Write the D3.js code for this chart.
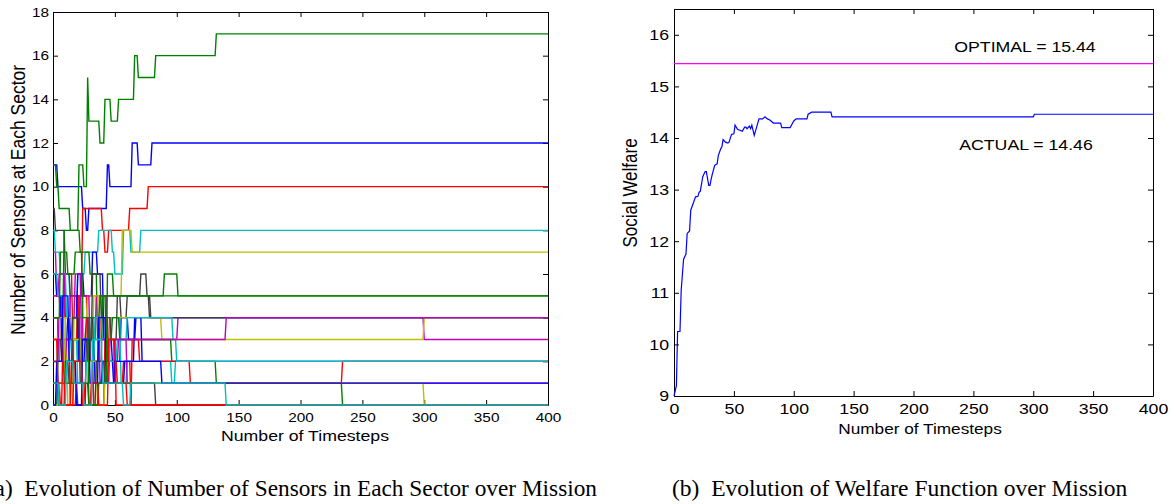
<!DOCTYPE html>
<html>
<head>
<meta charset="utf-8">
<script src="https://cdn.jsdelivr.net/npm/d3@7"></script>
<style>
    body { margin: 0; background: #fff; }
    svg { display: block; }
</style>
</head>
<body>
<svg id="mainCanvas" width="1172" height="504"></svg>
<script>
const lastStep = 400;
const timeTicks = [0, 50, 100, 150, 200, 250, 300, 350, 400];
const sensorTicks = [0, 2, 4, 6, 8, 10, 12, 14, 16, 18];
const welfareTicks = [9, 10, 11, 12, 13, 14, 15, 16];

// matlab default line colours, cycled over the sectors
const sectorColors = ["#0000ff", "#008000", "#ff0000", "#00bfbf", "#bf00bf", "#bfbf00", "#404040"];

// one list per sector: [timestep, sensors] each time the count changes
const sectorChanges = [
    [[0, 11], [4, 10], [24, 9], [27, 8], [29, 9], [44, 11], [46, 10], [64, 12], [69, 11], [80, 12]],
    [[0, 11], [3, 10], [5, 9], [14, 8], [21, 11], [25, 10], [28, 15], [29, 13], [38, 12], [42, 14], [47, 13], [53, 14], [66, 16], [69, 15], [83, 16], [132, 17]],
    [[0, 5], [6, 4], [10, 6], [16, 3], [20, 5], [24, 9], [40, 8], [42, 7], [45, 8], [62, 9], [77, 10]],
    [[0, 2], [5, 3], [9, 6], [14, 4], [20, 6], [26, 7], [37, 8], [48, 7], [50, 6], [57, 8], [63, 7], [71, 8]],
    [[0, 7], [3, 5], [8, 3], [14, 5], [22, 2], [29, 4], [38, 1], [46, 3], [101, 4], [300, 3]],
    [[0, 4], [6, 3], [12, 0], [17, 4], [25, 3], [33, 5], [56, 8], [64, 7]],
    [[0, 9], [2, 8], [10, 6], [14, 5], [20, 3], [27, 4], [33, 2], [40, 5], [55, 4], [60, 5], [71, 6], [76, 5], [78, 4]],
    [[0, 6], [3, 5], [7, 3], [12, 4], [20, 6], [25, 5], [32, 7], [36, 6], [41, 3], [48, 2], [55, 4], [61, 3], [67, 4]],
    [[0, 1], [4, 4], [9, 8], [22, 7], [30, 6], [36, 3], [40, 5], [90, 6], [101, 5]],
    [[0, 1], [6, 0], [15, 2], [21, 5], [28, 2], [33, 0], [42, 3], [50, 1], [57, 2], [63, 0]],
    [[0, 8], [2, 7], [6, 6], [11, 4], [16, 2], [24, 1], [30, 3], [37, 2], [46, 4], [55, 1], [60, 2], [96, 1], [99, 2]],
    [[0, 5], [5, 6], [10, 4], [18, 6], [23, 3], [35, 5], [44, 2], [53, 3], [60, 1]],
    [[0, 3], [5, 4], [11, 1], [17, 2], [24, 4], [28, 5], [38, 3], [47, 4], [88, 3], [300, 4]],
    [[0, 3], [7, 2], [13, 1], [20, 0], [27, 3], [32, 6], [39, 4], [47, 3], [52, 5], [79, 4]],
    [[0, 2], [4, 1], [9, 3], [15, 4], [21, 2], [26, 3], [34, 1], [40, 2], [49, 1], [58, 2], [66, 4], [72, 2]],
    [[0, 0], [4, 2], [10, 1], [16, 3], [24, 2], [31, 4], [38, 5], [43, 3], [48, 4], [54, 3], [96, 2], [132, 1], [234, 0]],
    [[0, 2], [4, 0], [8, 3], [14, 0], [19, 1], [26, 0], [32, 2], [38, 4], [45, 2], [52, 1], [60, 0], [64, 3], [70, 2], [111, 1], [234, 2]],
    [[0, 6], [4, 5], [9, 2], [14, 3], [20, 1], [27, 2], [34, 4], [40, 3], [46, 2], [52, 3], [60, 4], [97, 3], [100, 2]],
    [[0, 4], [5, 2], [11, 3], [17, 1], [24, 5], [30, 2], [37, 3], [44, 1], [50, 3], [140, 4]],
    [[0, 0], [5, 1], [10, 4], [16, 3], [23, 1], [29, 2], [36, 0], [42, 1], [300, 0]],
    [[0, 1], [5, 0], [10, 2], [16, 4], [22, 1], [29, 0], [35, 2], [42, 1], [83, 0]],
    [[0, 0], [3, 2], [8, 5], [13, 2], [19, 0], [24, 3], [30, 1], [37, 4], [43, 1], [50, 2], [88, 1]],
    [[0, 4], [6, 7], [12, 6], [18, 7], [24, 4], [29, 0], [37, 1], [44, 6], [49, 5]],
    [[0, 3], [4, 1], [10, 0], [17, 2], [24, 0], [31, 1], [37, 0], [45, 3], [51, 0]],
    [[0, 1], [5, 0], [11, 2], [17, 1], [25, 0], [32, 3], [40, 1], [57, 0], [63, 1], [140, 0]]
];

const welfareSteps = [0, 2, 3, 5, 6, 8, 10, 11, 13, 14, 16, 18, 20, 21, 22, 24, 26, 27, 29, 30,
    31, 32, 34, 36, 37, 39, 40, 41, 43, 45, 46, 48, 50, 51, 53, 55, 57, 59, 60, 61,
    63, 64, 65, 67, 69, 71, 74, 76, 78, 80, 83, 89, 90, 97, 100, 102, 111, 112, 115, 131,
    132, 300, 301, 400];
const welfareValues = [9.0, 9.2, 10.25, 10.25, 11.05, 11.65, 11.75, 12.15, 12.2, 12.6,
    12.73, 12.86, 12.87, 12.95, 12.97, 13.25, 13.35, 13.35, 13.08, 13.08,
    13.2, 13.3, 13.47, 13.5, 13.66, 13.79, 13.83, 13.97, 13.92, 13.9,
    13.92, 14.07, 14.08, 14.25, 14.17, 14.15, 14.13, 14.21, 14.21, 14.18,
    14.23, 14.18, 14.25, 14.05, 14.21, 14.37, 14.37, 14.41, 14.37, 14.35,
    14.29, 14.29, 14.2, 14.2, 14.33, 14.37, 14.37, 14.46, 14.5, 14.5,
    14.41, 14.41, 14.46, 14.46];
const optimalWelfare = 15.44;
const actualWelfare = 14.46;

const svg = d3.select("svg#mainCanvas");
const sansFont = '"Liberation Sans", Arial, Helvetica, sans-serif';
const serifFont = '"Liberation Serif", "Times New Roman", serif';
const stretchX = 1.18; // the plots in the figure are a bit wider than tall

const sensorX = d3.scaleLinear().domain([0, lastStep]).range([53, 548]);
const sensorY = d3.scaleLinear().domain([0, 18]).range([405, 12]);
const welfareX = d3.scaleLinear().domain([0, lastStep]).range([674, 1153]);
const welfareY = d3.scaleLinear().domain([9, 16.5]).range([396, 9]);

function drawBox(g, x, y, yTicks, fontSize, padX, padY) {
    const [left, right] = x.range();
    const [bottom, top] = y.range();
    const bottomAxis = g.append("g").attr("transform", `translate(0,${bottom})`)
        .call(d3.axisBottom(x).tickValues(timeTicks).tickSize(-5).tickSizeOuter(0).tickPadding(padX));
    g.append("g").attr("transform", `translate(0,${top})`)
        .call(d3.axisTop(x).tickValues(timeTicks).tickSize(-5).tickSizeOuter(0).tickFormat(""));
    const leftAxis = g.append("g").attr("transform", `translate(${left},0)`)
        .call(d3.axisLeft(y).tickValues(yTicks).tickSize(-5).tickSizeOuter(0).tickPadding(padY));
    g.append("g").attr("transform", `translate(${right},0)`)
        .call(d3.axisRight(y).tickValues(yTicks).tickSize(-5).tickSizeOuter(0).tickFormat(""));
    g.selectAll(".domain").attr("stroke", "#000");
    g.selectAll(".tick line").attr("stroke", "#000");
    g.selectAll(".tick text")
        .attr("font-family", sansFont)
        .attr("font-size", fontSize)
        .attr("fill", "#000");
    bottomAxis.selectAll(".tick text").attr("transform", `scale(${stretchX},1)`);
    leftAxis.selectAll(".tick text")
        .attr("x", -padY / stretchX)
        .attr("transform", `scale(${stretchX},1)`);
}

function addLabel(x, y, text, size, angle) {
    svg.append("text")
        .attr("transform", `translate(${x},${y}) scale(${stretchX},1) rotate(${angle || 0})`)
        .attr("text-anchor", "middle")
        .attr("font-family", sansFont)
        .attr("font-size", size)
        .attr("fill", "#000")
        .text(text);
}

// turn a change list into points, each change taking one timestep
function sectorPoints(changes) {
    const pts = [];
    changes.forEach(function (c, i) {
        if (i > 0) pts.push([c[0] - 1, changes[i - 1][1]]);
        pts.push(c);
    });
    pts.push([lastStep, changes[changes.length - 1][1]]);
    return pts;
}

// (a) sensors per sector
const leftGroup = svg.append("g");
drawBox(leftGroup, sensorX, sensorY, sensorTicks, 13, 8, 4);

const sectorLine = d3.line()
    .x(function (d) { return sensorX(d[0]); })
    .y(function (d) { return sensorY(d[1]); });

leftGroup.append("g").selectAll("path")
    .data(sectorChanges)
    .join("path")
    .attr("d", function (d) { return sectorLine(sectorPoints(d)); })
    .attr("fill", "none")
    .attr("stroke", function (d, i) { return sectorColors[i % sectorColors.length]; })
    .attr("stroke-width", 1.4);

addLabel(305, 441, "Number of Timesteps", 15);
addLabel(25, 200, "Number of Sensors at Each Sector", 17.5, -90);

// (b) social welfare
const rightGroup = svg.append("g");
drawBox(rightGroup, welfareX, welfareY, welfareTicks, 15, 7, 5);

rightGroup.append("line")
    .attr("x1", welfareX(0)).attr("x2", welfareX(lastStep))
    .attr("y1", welfareY(optimalWelfare)).attr("y2", welfareY(optimalWelfare))
    .attr("stroke", "#ff00ff")
    .attr("stroke-width", 1.3);

const welfareLine = d3.line()
    .x(function (d, i) { return welfareX(welfareSteps[i]); })
    .y(function (d) { return welfareY(d); });

rightGroup.append("path")
    .attr("d", welfareLine(welfareValues))
    .attr("fill", "none")
    .attr("stroke", "#0000ff")
    .attr("stroke-width", 1.2);

addLabel(1025, 52, `OPTIMAL = ${optimalWelfare.toFixed(2)}`, 15);
addLabel(1026, 150, `ACTUAL = ${actualWelfare.toFixed(2)}`, 15);
addLabel(920, 434, "Number of Timesteps", 14.6);
addLabel(637, 193, "Social Welfare", 17, -90);

// captions
svg.append("text")
    .attr("x", 597).attr("y", 496)
    .attr("text-anchor", "end")
    .attr("font-family", serifFont)
    .attr("font-size", 23.3)
    .text("(a)\u2002Evolution of Number of Sensors in Each Sector over Mission");
svg.append("text")
    .attr("x", 672).attr("y", 496)
    .attr("text-anchor", "start")
    .attr("font-family", serifFont)
    .attr("font-size", 23.5)
    .text("(b)\u2002Evolution of Welfare Function over Mission");
</script>
</body>
</html>
